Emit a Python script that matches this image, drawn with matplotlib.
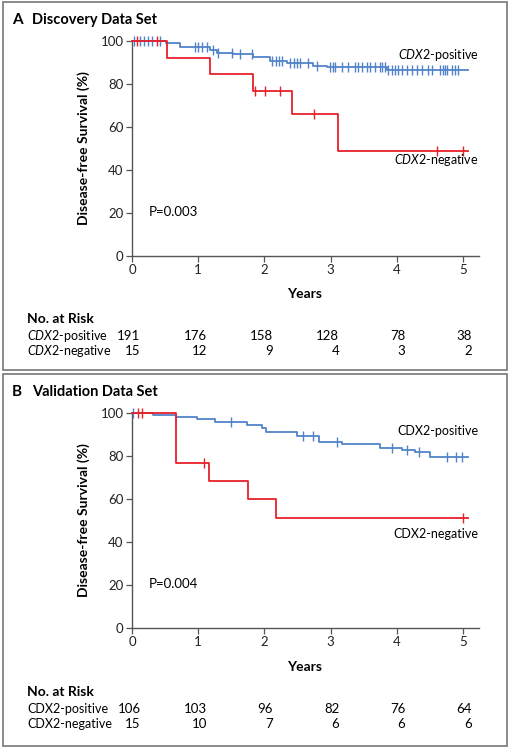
import numpy as np
import matplotlib
matplotlib.use('Agg')
import matplotlib.pyplot as plt
import matplotlib.transforms as mtransforms
from matplotlib.patches import Rectangle

plt.rcParams['font.family'] = ['Lato', 'DejaVu Sans']
plt.rcParams['mathtext.fontset'] = 'custom'
plt.rcParams['mathtext.it'] = 'Lato:italic'
plt.rcParams['mathtext.rm'] = 'Lato'

BLUE = '#5283c9'
RED = '#e8202a'
GREY = '#555555'

# ---- Panel A: discovery data set ----
a_pos_time = [0, 0.52, 0.73, 1.18, 1.28, 1.53, 1.83, 2.08, 2.34, 2.74, 2.95, 3.85, 5.08]
a_pos_surv = [100, 98.9, 97.4, 95.8, 94.6, 94.0, 92.4, 90.9, 89.9, 88.4, 87.8, 86.5, 86.5]
a_pos_cens = [0.03, 0.12, 0.18, 0.24, 0.3, 0.42, 0.95, 1.0, 1.06, 1.13, 1.22, 1.3,
              1.51, 1.63, 1.81, 2.12, 2.17, 2.22, 2.27, 2.39, 2.45, 2.49, 2.54, 2.66,
              2.79, 2.99, 3.03, 3.07, 3.17, 3.26, 3.37, 3.42, 3.47, 3.55, 3.6, 3.67,
              3.75, 3.78, 3.82, 3.87, 3.92, 3.97, 4.02, 4.08, 4.16, 4.23, 4.31, 4.38,
              4.47, 4.53, 4.65, 4.69, 4.73, 4.76, 4.83, 4.88, 4.92]
a_neg_time = [0, 0.53, 1.18, 1.83, 2.41, 3.11, 5.08]
a_neg_surv = [100, 92.3, 84.6, 76.9, 65.9, 49.0, 49.0]
a_neg_cens = [0.08, 0.38, 1.85, 2.01, 2.23, 2.75, 4.61, 5.0]
a_risk_pos = [191, 176, 158, 128, 78, 38]
a_risk_neg = [15, 12, 9, 4, 3, 2]

# ---- Panel B: validation data set ----
b_pos_time = [0, 0.32, 0.67, 0.98, 1.25, 1.73, 1.96, 2.02, 2.49, 2.83, 3.17, 3.75, 4.07, 4.27, 4.5, 5.08]
b_pos_surv = [100, 98.9, 98.0, 97.1, 95.9, 94.4, 92.9, 91.0, 89.2, 86.7, 85.6, 83.9, 82.8, 81.7, 79.4, 79.4]
b_pos_cens = [0.01, 1.5, 2.58, 2.74, 3.09, 3.92, 4.15, 4.33, 4.75, 4.9, 4.98]
b_neg_time = [0, 0.66, 1.17, 1.75, 2.17, 5.08]
b_neg_surv = [100, 76.9, 68.4, 59.8, 51.0, 51.0]
b_neg_cens = [0.09, 0.15, 1.09, 5.0]
b_risk_pos = [106, 103, 96, 82, 76, 64]
b_risk_neg = [15, 10, 7, 6, 6, 6]

years = [0, 1, 2, 3, 4, 5]

W, H = 511, 750
fig = plt.figure(figsize=(W / 100, H / 100), dpi=100)


def fy(py):
    return 1 - py / H


def km(ax, t, s, cens, color):
    ax.step(t, s, where='post', color=color, lw=1.3, clip_on=False, zorder=3)
    idx = np.searchsorted(t, cens, side='right') - 1
    ax.plot(cens, np.array(s)[idx], ls='None', marker='|', ms=6.5, mew=1.0,
            color=color, clip_on=False, zorder=3)


def panel(top, bottom, box, letter, title, pos, neg, risk_pos, risk_neg,
          pval, italic, lab_y, risk_y):
    fig.add_artist(Rectangle((3 / W, fy(box[1])), 504 / W, (box[1] - box[0]) / H,
                             transform=fig.transFigure, fill=False,
                             ec='#777777', lw=1.2))
    fig.text(12 / W, fy(box[0] + 18), letter, fontsize=11, fontweight='bold',
             va='center')
    fig.text(32 / W, fy(box[0] + 18), title, fontsize=10.5, fontweight='bold',
             va='center')

    ax = fig.add_axes([132 / W, fy(bottom), 347 / W, (bottom - top) / H])
    km(ax, *pos, BLUE)
    km(ax, *neg, RED)
    ax.set_xlim(0, 5.24)
    ax.set_ylim(0, 100)
    ax.set_xticks(years)
    ax.set_yticks([0, 20, 40, 60, 80, 100])
    for sp in ['top', 'right']:
        ax.spines[sp].set_visible(False)
    for sp in ['left', 'bottom']:
        ax.spines[sp].set_color(GREY)
        ax.spines[sp].set_linewidth(1.0)
    ax.tick_params(colors=GREY, labelcolor='#222222', labelsize=9.5, length=4,
                   width=0.9, pad=2)
    ax.set_ylabel('Disease-free Survival (%)', fontsize=10, fontweight='bold',
                  labelpad=8)
    ax.text(0.25, 20.5, pval, fontsize=9.5, va='center')

    gene = r'$\mathit{CDX2}$' if italic else 'CDX2'
    ax.text(5.23, lab_y[0], gene + '-positive', fontsize=9, ha='right', va='center')
    ax.text(5.23, lab_y[1], gene + '-negative', fontsize=9, ha='right', va='center')

    fig.text(305 / W, fy(risk_y - 25), 'Years', fontsize=10, fontweight='bold',
             ha='center', va='center')
    fig.text(27 / W, fy(risk_y), 'No. at Risk', fontsize=10, fontweight='bold',
             va='center')
    fig.text(27 / W, fy(risk_y + 17), gene + '-positive', fontsize=9, va='center')
    fig.text(27 / W, fy(risk_y + 32), gene + '-negative', fontsize=9, va='center')
    tr = mtransforms.blended_transform_factory(ax.transData, fig.transFigure)
    for yr, n1, n2 in zip(years, risk_pos, risk_neg):
        ax.text(yr + 0.13, fy(risk_y + 17), str(n1), fontsize=9.5, ha='right',
                va='center', transform=tr, clip_on=False)
        ax.text(yr + 0.13, fy(risk_y + 32), str(n2), fontsize=9.5, ha='right',
                va='center', transform=tr, clip_on=False)
    return ax


panel(41, 256, (2, 370), 'A', 'Discovery Data Set',
      (a_pos_time, a_pos_surv, a_pos_cens), (a_neg_time, a_neg_surv, a_neg_cens),
      a_risk_pos, a_risk_neg, 'P=0.003', True, (93.5, 44.5), 319)
panel(413, 628, (374, 746), 'B', 'Validation Data Set',
      (b_pos_time, b_pos_surv, b_pos_cens), (b_neg_time, b_neg_surv, b_neg_cens),
      b_risk_pos, b_risk_neg, 'P=0.004', False, (91.5, 43.5), 692)

fig.savefig('out.png', dpi=100)
